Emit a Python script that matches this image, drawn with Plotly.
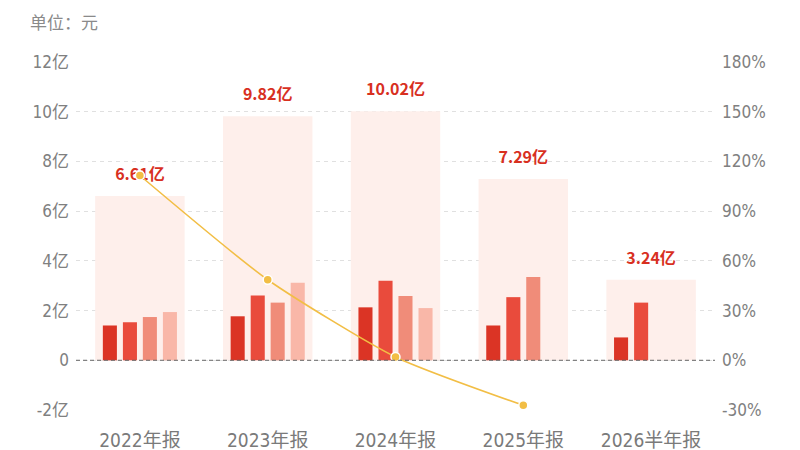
import plotly.graph_objects as go

# data (unit: 亿元)
periods = ["2022年报", "2023年报", "2024年报", "2025年报", "2026半年报"]
totals = [6.61, 9.82, 10.02, 7.29, 3.24]
total_labels = ["6.61亿", "9.82亿", "10.02亿", "7.29亿", "3.24亿"]
q1 = [1.40, 1.77, 2.13, 1.40, 0.92]
q2 = [1.53, 2.61, 3.20, 2.54, 2.32]
q3 = [1.74, 2.32, 2.59, 3.35, None]
q4 = [1.94, 3.12, 2.10, None, None]
growth = [111.5, 48.6, 2.0, -27.2, None]  # yoy %

left_ticks = [-2, 0, 2, 4, 6, 8, 10, 12]
left_text = ["-2亿", "0", "2亿", "4亿", "6亿", "8亿", "10亿", "12亿"]
right_ticks = [-30, 0, 30, 60, 90, 120, 150, 180]
right_text = ["-30%", "0%", "30%", "60%", "90%", "120%", "150%", "180%"]

font_main = "DejaVu Sans Condensed, Noto Sans CJK SC, sans-serif"
quarter_colors = ["#DB3425", "#E94B3C", "#F08C79", "#F9B7A8"]
bar_w = 0.11
offsets = [-0.235, -0.078, 0.078, 0.235]

fig = go.Figure()

# pale background bar for the yearly total
fig.add_trace(go.Bar(
    x=periods, y=totals, width=0.7, offset=-0.35,
    marker=dict(color="#FEEFEB", line=dict(width=0)),
    hoverinfo="skip",
))

for vals, col, off in zip([q1, q2, q3, q4], quarter_colors, offsets):
    fig.add_trace(go.Bar(
        x=periods, y=vals, width=bar_w, offset=off - bar_w / 2,
        marker=dict(color=col, line=dict(width=0)),
    ))

# total labels above the background bars
fig.add_trace(go.Scatter(
    x=periods, y=totals, mode="markers+text", text=total_labels,
    textposition="top center", marker=dict(size=18, opacity=0),
    textfont=dict(color="#D8301F", size=16, family="Noto Sans CJK SC", weight="bold"),
    hoverinfo="skip",
))

# yoy growth line
fig.add_trace(go.Scatter(
    x=periods, y=growth, yaxis="y2", mode="lines+markers",
    line=dict(color="#F2BE45", width=1.6, shape="spline", smoothing=0.6),
    marker=dict(size=9, color="#F2BE45", line=dict(color="white", width=1.5)),
))

fig.add_shape(type="line", xref="paper", x0=0, x1=1, yref="y", y0=0, y1=0,
              line=dict(color="#666666", width=1, dash="4px,3px"))

fig.add_annotation(text="单位：元", xref="paper", yref="paper",
                   x=-0.075, y=1.115, xanchor="left", yanchor="middle",
                   showarrow=False, font=dict(size=17, color="#8a8a8a", family="Noto Sans CJK SC"))

fig.update_layout(
    width=792, height=442,
    margin=dict(l=68, r=85, t=54, b=40),
    barmode="overlay",
    showlegend=False,
    plot_bgcolor="white", paper_bgcolor="white",
    font=dict(family=font_main, color="#808080"),
    xaxis=dict(showgrid=False, showline=False, ticks="", ticklabelstandoff=17,
               automargin=False, tickfont=dict(size=19, color="#7a7a7a")),
    yaxis=dict(range=[-2, 12], tickvals=left_ticks, ticktext=left_text,
               showgrid=True, gridcolor="#e0e0e0", griddash="4px,4px", gridwidth=1,
               zeroline=False, showline=False, tickfont=dict(size=17, color="#808080"),
               ticklabelstandoff=6, automargin=False),
    yaxis2=dict(range=[-30, 180], tickvals=right_ticks, ticktext=right_text,
                overlaying="y", side="right", showgrid=False, zeroline=False,
                showline=False, tickfont=dict(size=17, color="#808080"),
                ticklabelstandoff=6, automargin=False),
)

fig.write_html("out.html")
